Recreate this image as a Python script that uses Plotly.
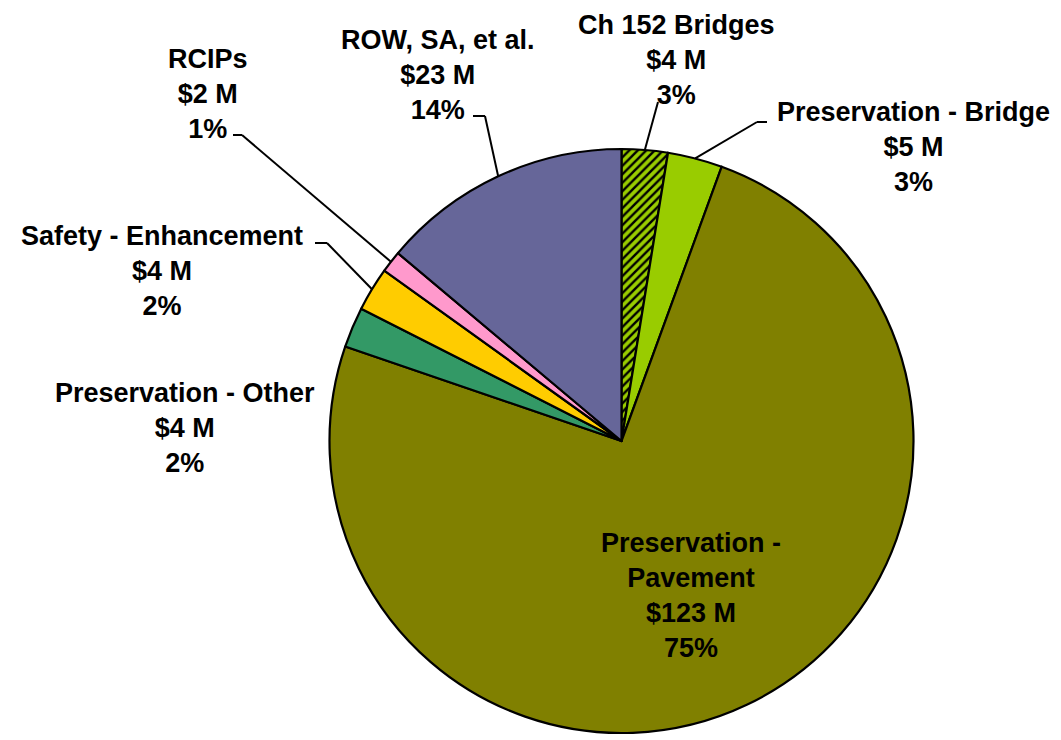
import math
import plotly.graph_objects as go

# ---- data ----
categories = ["Ch 152 Bridges", "Preservation - Bridge", "Preservation - Pavement",
              "Preservation - Other", "Safety - Enhancement", "RCIPs", "ROW, SA, et al."]
values = [4.2, 5.0, 123.2, 3.7, 4.0, 2.0, 22.9]  # $ millions
label_names = ["Ch 152 Bridges", "Preservation - Bridge", "Preservation -<br>Pavement",
               "Preservation - Other", "Safety - Enhancement", "RCIPs", "ROW, SA, et al."]
colors = ["#99CC00", "#99CC00", "#808000", "#339966", "#FFCC00", "#FF99CC", "#666699"]
patterns = ["/", "", "", "", "", "", ""]

# ---- layout constants (page pixels) ----
OFF = 8  # default page body margin
W, H = 1061 - OFF, 740 - OFF
CX, CY, R = 621.5, 441.0, 292.0
# label block centres (px)
label_pos = [(676, 60), (913, 147), (691, 595), (185, 428), (162, 271), (208, 94), (438, 75)]
# leader line elbow and end (px); None = no leader
leaders = [
    [(658, 102)],
    [(757, 122), (767, 122)],
    None,
    None,
    [(327, 243), (315, 243)],
    [(242, 135), (233, 135)],
    [(485, 116), (473, 116)],
]

total = sum(values)

def px(x):
    return (x - OFF) / W

def py(y):
    return 1 - (y - OFF) / H

fig = go.Figure(go.Pie(
    labels=categories,
    values=values,
    sort=False,
    direction="clockwise",
    rotation=0,
    textinfo="none",
    hoverinfo="label+value+percent",
    marker=dict(colors=colors, line=dict(color="black", width=2.2),
                pattern=dict(shape=patterns, fgcolor="black", bgcolor=colors,
                             size=6, solidity=0.4, fillmode="replace")),
    domain=dict(x=[px(CX - R), px(CX + R)], y=[max(0, py(CY + R)), py(CY - R)]),
    showlegend=False,
))

font = dict(family="Arial, Liberation Sans, sans-serif", size=27, color="black", weight="bold")

cum = 0.0
for i, v in enumerate(values):
    mid = (cum + v / 2) / total * 2 * math.pi
    cum += v
    pct = round(v / total * 100)
    text = f"{label_names[i]}<br>${round(v)} M<br>{pct}%"
    lx, ly = label_pos[i]
    fig.add_annotation(x=px(lx), y=py(ly), xref="paper", yref="paper", text=text,
                       showarrow=False, xanchor="center", yanchor="middle", font=font,
                       align="center")
    if leaders[i]:
        sx = CX + R * math.sin(mid)
        sy = CY - R * math.cos(mid)
        pts = [(sx, sy)] + leaders[i]
        for (x0, y0), (x1, y1) in zip(pts[:-1], pts[1:]):
            fig.add_shape(type="line", xref="paper", yref="paper",
                          x0=px(x0), y0=py(y0), x1=px(x1), y1=py(y1),
                          line=dict(color="black", width=2))

fig.update_layout(width=W, height=H, margin=dict(l=0, r=0, t=0, b=0),
                  paper_bgcolor="white", plot_bgcolor="white")
fig.write_html("out.html")
